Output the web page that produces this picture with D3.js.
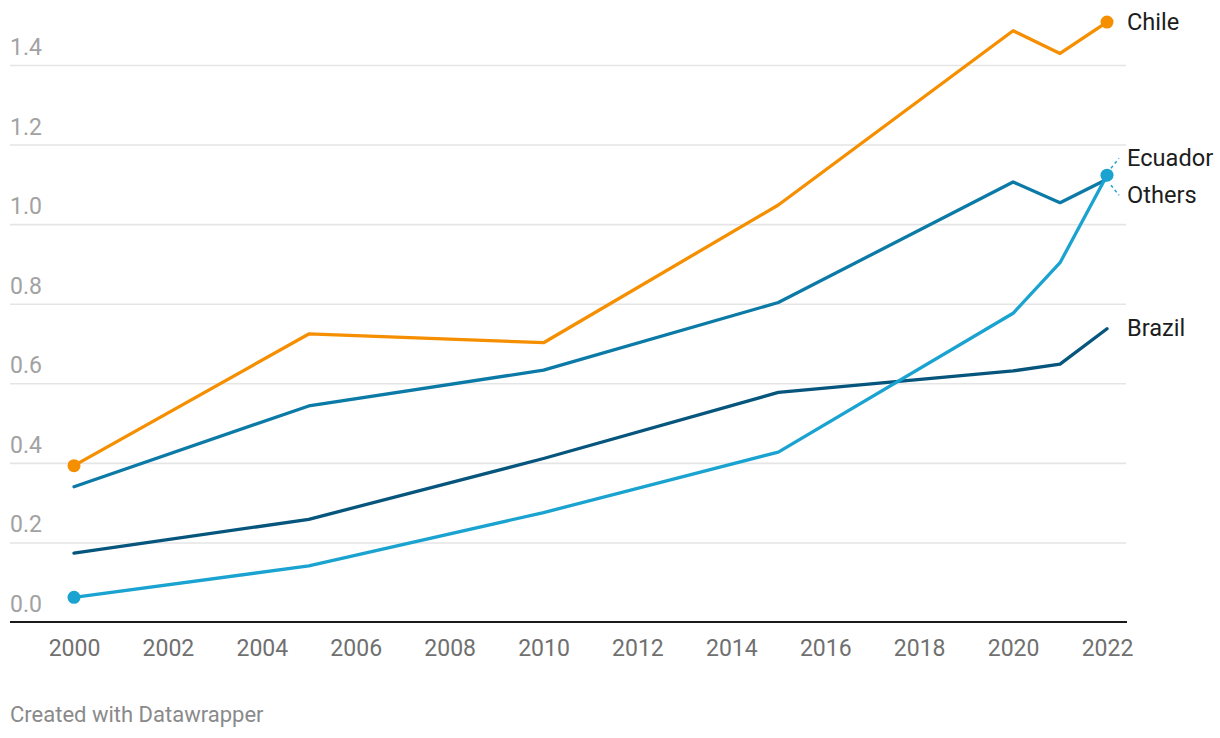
<!DOCTYPE html>
<html>
<head>
<meta charset="utf-8">
<script src="https://cdn.jsdelivr.net/npm/d3@7"></script>
<style>
  html, body { margin: 0; padding: 0; background: #fff; }
  svg { display: block; font-family: Roboto, "Noto Sans", sans-serif; }
</style>
</head>
<body>
<svg id="chart" width="1220" height="738"></svg>
<script>
const years = [2000, 2005, 2010, 2015, 2020, 2021, 2022];
const chile   = [0.393, 0.724, 0.702, 1.048, 1.486, 1.429, 1.508];
const others  = [0.340, 0.543, 0.633, 0.803, 1.106, 1.054, 1.113];
const brazil  = [0.173, 0.258, 0.411, 0.577, 0.631, 0.648, 0.737];
const ecuador = [0.062, 0.141, 0.275, 0.427, 0.776, 0.903, 1.123];
const yTicks = [0, 0.2, 0.4, 0.6, 0.8, 1.0, 1.2, 1.4];
const xTicks = [2000, 2002, 2004, 2006, 2008, 2010, 2012, 2014, 2016, 2018, 2020, 2022];
const footer = "Created with Datawrapper";

const series = [
  { name: "Brazil",  values: brazil,  color: "#06557d", dots: false },
  { name: "Others",  values: others,  color: "#0b7aa6", dots: false },
  { name: "Ecuador", values: ecuador, color: "#1aa3d0", dots: true },
  { name: "Chile",   values: chile,   color: "#f68f00", dots: true }
];

const svg = d3.select("#chart");
const mLeft = 10, mRight = 1126, mTop = 65, mBottom = 622;
const x = d3.scaleLinear().domain([2000, 2022]).range([74, 1107]);
const y = d3.scaleLinear().domain([0, 1.4]).range([mBottom, mTop]);

// y grid + labels
const yAxis = svg.append("g")
  .attr("transform", `translate(${mLeft},0)`)
  .call(d3.axisRight(y).tickValues(yTicks).tickSize(mRight - mLeft).tickFormat(d3.format(".1f")));
yAxis.select(".domain").remove();
yAxis.selectAll(".tick line").attr("stroke", "#e5e5e5").attr("stroke-width", 1.6);
yAxis.selectAll(".tick text")
  .attr("x", 0).attr("dy", -10.5).attr("text-anchor", "start")
  .attr("fill", "#a2a2a2").style("font-size", "23px").style("font-family", "Roboto");
yAxis.selectAll(".tick").filter(d => d === 0).select("line").remove();

// x axis
const xAxis = svg.append("g")
  .attr("transform", `translate(0,${mBottom})`)
  .call(d3.axisBottom(x).tickValues(xTicks).tickSize(0).tickFormat(d3.format("d")));
xAxis.select(".domain").remove();
xAxis.selectAll(".tick text")
  .attr("y", 34).attr("dy", 0)
  .attr("fill", "#707070").style("font-size", "23px").style("font-family", "Roboto");

svg.append("line")
  .attr("x1", mLeft).attr("x2", mRight + 1)
  .attr("y1", y(0)).attr("y2", y(0))
  .attr("stroke", "#1a1a1a").attr("stroke-width", 2);

const line = d3.line().x(d => x(d[0])).y(d => y(d[1]));
series.forEach(s => {
  const pts = years.map((yr, i) => [yr, s.values[i]]);
  svg.append("path").datum(pts)
    .attr("d", line).attr("fill", "none")
    .attr("stroke", s.color).attr("stroke-width", 3.3)
    .attr("stroke-linejoin", "round").attr("stroke-linecap", "round");
});
series.filter(s => s.dots).forEach(s => {
  [0, years.length - 1].forEach(i => {
    svg.append("circle")
      .attr("cx", x(years[i])).attr("cy", y(s.values[i])).attr("r", 6.5)
      .attr("fill", s.color);
  });
});

// labels
const labelX = 1127;
const lab = (txt, cy) => svg.append("text")
  .attr("x", labelX).attr("y", cy).attr("dy", "0.35em")
  .attr("fill", "#1d1d1d").style("font-size", "23.6px").style("font-family", "Roboto")
  .text(txt);
lab("Chile", y(chile[chile.length - 1]));
lab("Brazil", y(brazil[brazil.length - 1]) - 1);
const ecY = y(ecuador[ecuador.length - 1]);
lab("Ecuador", ecY - 17);
lab("Others", ecY + 20);
const ex = x(2022);
svg.append("line").attr("x1", ex + 4).attr("y1", ecY - 7).attr("x2", ex + 12).attr("y2", ecY - 17)
  .attr("stroke", "#1aa3d0").attr("stroke-width", 1.5).attr("stroke-dasharray", "3,3");
svg.append("line").attr("x1", ex + 4).attr("y1", ecY + 10).attr("x2", ex + 12).attr("y2", ecY + 20)
  .attr("stroke", "#1aa3d0").attr("stroke-width", 1.5).attr("stroke-dasharray", "3,3");

svg.append("text").attr("x", 10).attr("y", 722)
  .attr("fill", "#8a8a8a").style("font-size", "22px").style("font-family", "Roboto")
  .text(footer);
</script>
</body>
</html>
